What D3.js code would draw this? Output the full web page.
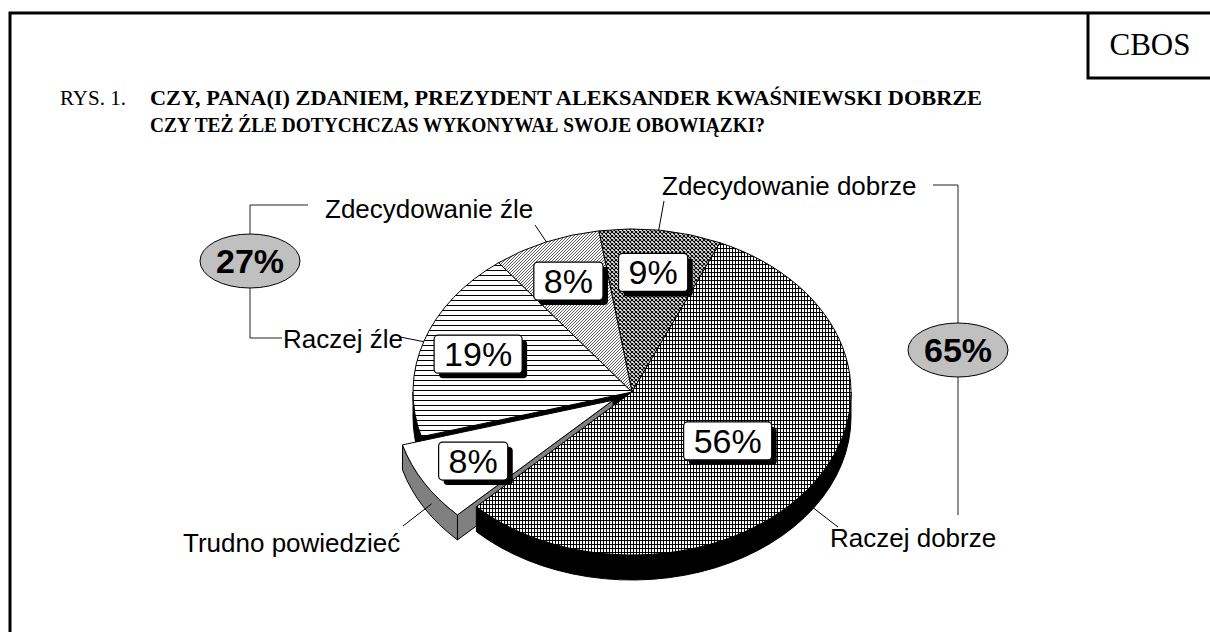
<!DOCTYPE html>
<meta charset="utf-8">
<style>
body { margin: 0; background: #fff; }
svg text.cat { font: 26px "Liberation Sans", Arial, sans-serif; }
svg text.pct { font: 34px "Liberation Sans", Arial, sans-serif; text-anchor: middle; }
svg text.grp { font: bold 34px "Liberation Sans", Arial, sans-serif; text-anchor: middle; }
svg text.serif { font-family: "Liberation Serif", "Times New Roman", serif; }
</style>
<body>
<svg id="chart" width="1210" height="632"></svg>
<script src="https://d3js.org/d3.v7.min.js"></script>
<script>
// data
var categories = ["Zdecydowanie dobrze", "Raczej dobrze", "Trudno powiedzieć", "Raczej źle", "Zdecydowanie źle"];
var values = [9, 56, 8, 19, 8];
var exploded = [false, false, true, false, false];
var goodGroup = ["Zdecydowanie dobrze", "Raczej dobrze"];
var badGroup = ["Raczej źle", "Zdecydowanie źle"];
var patterns = ["p9", "p56", "none", "p19", "p8"];

var svg = d3.select("#chart");

// pie geometry (pseudo 3D, ellipse)
var cx = 632, cy = 392, rx = 219, ry = 163, depth = 25, explode = 0.1;

function pt(a, dy, off) {
  off = off || [0, 0];
  return [cx + off[0] + rx * Math.sin(a), cy + off[1] - ry * Math.cos(a) + (dy || 0)];
}

// patterns
var defs = svg.append("defs");
function pat(id, w, h, draw) {
  var p = defs.append("pattern").attr("id", id).attr("patternUnits", "userSpaceOnUse")
    .attr("width", w).attr("height", h);
  p.append("rect").attr("width", w).attr("height", h).attr("fill", "#fff");
  draw(p);
}
pat("p9", 4, 4, function(p) {
  p.append("path").attr("d", "M0,0L4,4M4,0L0,4").attr("stroke", "#000").attr("stroke-width", 1.1);
});
pat("p56", 3, 4, function(p) {
  p.append("rect").attr("x", 0).attr("y", 0).attr("width", 1).attr("height", 4).attr("fill", "#000");
  p.append("rect").attr("x", 0).attr("y", 0).attr("width", 3).attr("height", 1).attr("fill", "#000");
});
pat("p19", 6, 5, function(p) {
  p.append("rect").attr("x", 0).attr("y", 0).attr("width", 6).attr("height", 1).attr("fill", "#000");
});
pat("p8", 3, 3, function(p) {
  p.append("path").attr("d", "M-1,4L4,-1M-1,1L1,-1M2,4L4,2").attr("stroke", "#333").attr("stroke-width", 0.8);
});

// frame
svg.append("path").attr("d", "M10,640V13H1215").attr("fill", "none").attr("stroke", "#000").attr("stroke-width", 3);
svg.append("path").attr("d", "M1088,13V78H1215").attr("fill", "none").attr("stroke", "#000").attr("stroke-width", 3);
svg.append("text").attr("class", "serif").attr("x", 1150).attr("y", 55).attr("text-anchor", "middle")
  .attr("font-size", 31).text("CBOS");

// title
svg.append("text").attr("class", "serif").attr("x", 60).attr("y", 105).attr("font-size", 21).text("RYS. 1.");
svg.append("text").attr("class", "serif").attr("x", 150).attr("y", 105).attr("font-size", 22)
  .attr("font-weight", "bold").attr("textLength", 832).attr("lengthAdjust", "spacingAndGlyphs")
  .text("CZY, PANA(I) ZDANIEM, PREZYDENT ALEKSANDER KWAŚNIEWSKI DOBRZE");
svg.append("text").attr("class", "serif").attr("x", 150).attr("y", 132).attr("font-size", 22)
  .attr("font-weight", "bold").attr("textLength", 615).attr("lengthAdjust", "spacingAndGlyphs")
  .text("CZY TEŻ ŹLE DOTYCHCZAS WYKONYWAŁ SWOJE OBOWIĄZKI?");

var pie = d3.pie().sort(null).startAngle(-0.152).endAngle(2 * Math.PI - 0.152);
var arcs = pie(values).map(function(d, i) {
  var mid = (d.startAngle + d.endAngle) / 2;
  d.off = exploded[i] ? [rx * explode * Math.sin(mid), -ry * explode * Math.cos(mid)] : [0, 0];
  d.mid = mid;
  d.i = i;
  return d;
});

function topPath(d) {
  var c = [cx + d.off[0], cy + d.off[1]], p0 = pt(d.startAngle, 0, d.off), p1 = pt(d.endAngle, 0, d.off);
  var large = d.endAngle - d.startAngle > Math.PI ? 1 : 0;
  return "M" + c + "L" + p0 + "A" + rx + "," + ry + " 0 " + large + " 1 " + p1 + "Z";
}
function rimPath(a0, a1, off) {
  var p0 = pt(a0, 0, off), p1 = pt(a1, 0, off), q0 = pt(a0, depth, off), q1 = pt(a1, depth, off);
  return "M" + p0 + "A" + rx + "," + ry + " 0 0 1 " + p1 + "L" + q1 +
    "A" + rx + "," + ry + " 0 0 0 " + q0 + "Z";
}
function facePath(a, off) {
  var c = [cx + off[0], cy + off[1]], p = pt(a, 0, off);
  return "M" + c + "L" + p + "L" + [p[0], p[1] + depth] + "L" + [c[0], c[1] + depth] + "Z";
}
function rimRange(d) {
  var a0 = Math.max(d.startAngle, Math.PI / 2), a1 = Math.min(d.endAngle, 3 * Math.PI / 2);
  return a1 > a0 ? [a0, a1] : null;
}

var g = svg.append("g").attr("stroke", "#000").attr("stroke-width", 1).attr("stroke-linejoin", "round");
var ex = arcs.filter(function(d) { return exploded[d.i]; })[0];
var main = arcs.filter(function(d) { return !exploded[d.i]; });

// pieces behind the exploded slice
main.filter(function(d) { return d.mid > ex.mid; }).forEach(function(d) {
  var r = rimRange(d);
  if (r) g.append("path").attr("d", rimPath(r[0], r[1], [0, 0])).attr("fill", "#000");
  if (d.startAngle === ex.endAngle) g.append("path").attr("d", facePath(d.startAngle, [0, 0])).attr("fill", "#000");
});

// exploded slice
var er = rimRange(ex);
g.append("path").attr("d", facePath(ex.startAngle, ex.off)).attr("fill", "#808080");
if (er) g.append("path").attr("d", rimPath(er[0], er[1], ex.off)).attr("fill", "#808080");
g.append("path").attr("d", topPath(ex)).attr("fill", "#fff");

// main pie rims in front
main.filter(function(d) { return d.mid < ex.mid; }).forEach(function(d) {
  var r = rimRange(d);
  if (r) g.append("path").attr("d", rimPath(r[0], r[1], [0, 0])).attr("fill", "#000");
});

// top faces
g.selectAll("path.top").data(main).enter().append("path").attr("class", "top")
  .attr("d", topPath)
  .attr("fill", function(d) { return patterns[d.i] === "none" ? "#fff" : "url(#" + patterns[d.i] + ")"; });

// value boxes
var maxV = d3.max(values);
arcs.forEach(function(d) {
  var f = d.value === maxV ? 0.53 : 0.74;
  var p = pt(d.mid, 0, d.off);
  var x = cx + d.off[0] + (p[0] - cx - d.off[0]) * f, y = cy + d.off[1] + (p[1] - cy - d.off[1]) * f;
  var lg = svg.append("g");
  var shadow = lg.append("rect"), box = lg.append("rect");
  var t = lg.append("text").attr("class", "pct").attr("x", x).attr("y", y + 12).text(d.value + "%");
  var w = t.node().getComputedTextLength() + 20, h = 38;
  shadow.attr("x", x - w / 2 + 5).attr("y", y - h / 2 + 5).attr("width", w).attr("height", h)
    .attr("rx", 4).attr("fill", "#000");
  box.attr("x", x - w / 2).attr("y", y - h / 2).attr("width", w).attr("height", h)
    .attr("rx", 4).attr("fill", "#fff").attr("stroke", "#000").attr("stroke-width", 1.2);
});

// category labels with leader lines
var catLayout = [
  {x: 662, y: 195, from: [664, 201], ang: 7, dep: 0},
  {x: 830, y: 547, from: [838, 527], ang: 124, dep: 1},
  {x: 183, y: 552, from: [403, 526], ang: 236, dep: 0.5},
  {x: 283, y: 348, from: [400, 337], ang: 288, dep: 0},
  {x: 325, y: 218, from: [535, 225], ang: 337, dep: 0}
];
categories.forEach(function(c, i) {
  var L = catLayout[i];
  var e = pt(L.ang * Math.PI / 180, L.dep * depth, arcs[i].off);
  svg.append("line").attr("x1", L.from[0]).attr("y1", L.from[1]).attr("x2", e[0]).attr("y2", e[1])
    .attr("stroke", "#000").attr("stroke-width", 1);
  svg.append("text").attr("class", "cat").attr("x", L.x).attr("y", L.y).text(c);
});

// group totals
function total(names) {
  return d3.sum(names, function(n) { return values[categories.indexOf(n)]; });
}
var groups = [
  {v: total(badGroup), path: "M308,205H250V338H282", ex: 250, ey: 261},
  {v: total(goodGroup), path: "M933,185H958V515", ex: 958, ey: 350}
];
groups.forEach(function(G) {
  svg.append("path").attr("d", G.path).attr("fill", "none").attr("stroke", "#222").attr("stroke-width", 1);
  svg.append("ellipse").attr("cx", G.ex).attr("cy", G.ey).attr("rx", 50).attr("ry", 27)
    .attr("fill", "#c0c0c0").attr("stroke", "#000").attr("stroke-width", 1);
  svg.append("text").attr("class", "grp").attr("x", G.ex).attr("y", G.ey + 12).text(G.v + "%");
});
</script>
</body>
